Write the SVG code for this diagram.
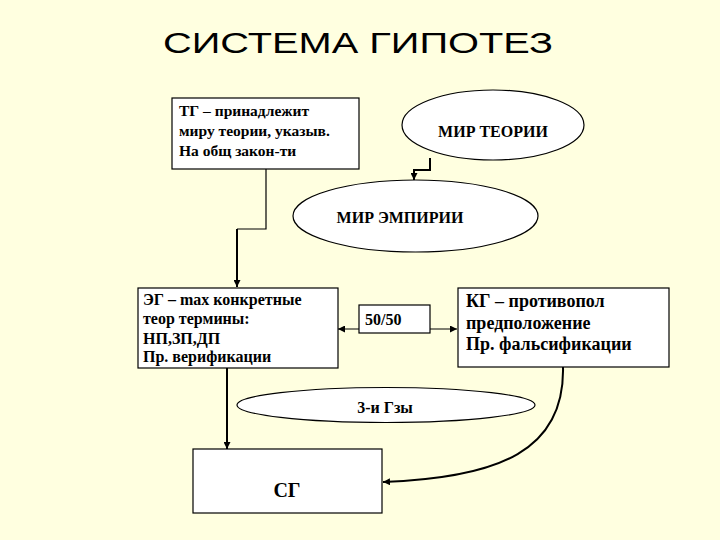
<svg xmlns="http://www.w3.org/2000/svg" width="720" height="540" viewBox="0 0 720 540">
<defs>
<marker id="ah" viewBox="0 0 10 10" refX="10" refY="5" markerWidth="7" markerHeight="7" markerUnits="userSpaceOnUse" orient="auto-start-reverse">
<path d="M0,0 L10,5 L0,10 z" fill="#000"/>
</marker>
</defs>
<style>
.bx{fill:#fff;stroke:#000;stroke-width:1.2}
.t{font-family:'Liberation Serif','DejaVu Serif',serif;font-weight:bold;fill:#000}
.c{fill:none;stroke:#000}
</style>
<rect width="720" height="540" fill="#FFFFE0"/>
<text x="358" y="53" font-family="Liberation Sans, Arial, sans-serif" font-size="29" text-anchor="middle" textLength="390" lengthAdjust="spacingAndGlyphs">СИСТЕМА ГИПОТЕЗ</text>

<g id="connectors">
<path class="c" stroke-width="1.2" d="M266,169 V229 H237"/>
<path class="c" stroke-width="2" d="M237,229 V287" marker-end="url(#ah)"/>
<path class="c" stroke-width="2" d="M430,158 V170 H414 V180" marker-end="url(#ah)"/>
<path class="c" stroke-width="1.2" d="M338,329 H457" marker-start="url(#ah)" marker-end="url(#ah)"/>
<path class="c" stroke-width="2" d="M227,368 V449" marker-end="url(#ah)"/>
<path class="c" stroke-width="2" d="M563,367 C565,450 500,478 383,482" marker-end="url(#ah)"/>
</g>

<g id="tg">
<rect class="bx" x="172" y="98" width="187" height="71"/>
<text class="t" font-size="15.5" x="179" y="116">ТГ – принадлежит</text>
<text class="t" font-size="15.5" x="179" y="136">миру теории, указыв.</text>
<text class="t" font-size="15.5" x="179" y="156">На общ закон-ти</text>
</g>

<g id="mir-teorii">
<ellipse class="bx" cx="493" cy="125" rx="91" ry="35"/>
<text class="t" font-size="16" x="493" y="137" text-anchor="middle">МИР ТЕОРИИ</text>
</g>

<g id="mir-empirii">
<ellipse class="bx" cx="415.5" cy="216" rx="122.5" ry="36"/>
<text class="t" font-size="16" x="400" y="223" text-anchor="middle">МИР ЭМПИРИИ</text>
</g>

<g id="eg">
<rect class="bx" x="138" y="288" width="200" height="80"/>
<text class="t" font-size="16" x="143" y="305">ЭГ – max конкретные</text>
<text class="t" font-size="16" x="143" y="324">теор термины:</text>
<text class="t" font-size="16" x="143" y="344">НП,ЗП,ДП</text>
<text class="t" font-size="16" x="143" y="362">Пр. верификации</text>
</g>

<g id="fifty">
<rect class="bx" x="359" y="305" width="71" height="28"/>
<text class="t" font-size="16" x="365" y="325">50/50</text>
</g>

<g id="kg">
<rect class="bx" x="458" y="288" width="211" height="79"/>
<text class="t" font-size="18" x="466" y="307">КГ – противопол</text>
<text class="t" font-size="18" x="466" y="329">предположение</text>
<text class="t" font-size="18" x="466" y="350">Пр. фальсификации</text>
</g>

<g id="tri-gz">
<ellipse class="bx" cx="386" cy="405" rx="149" ry="17.5"/>
<text class="t" font-size="16" x="385" y="413" text-anchor="middle">3-и Гзы</text>
</g>

<g id="sg">
<rect class="bx" x="193" y="449" width="189" height="64"/>
<text class="t" font-size="20" x="287" y="497" text-anchor="middle">СГ</text>
</g>
</svg>
